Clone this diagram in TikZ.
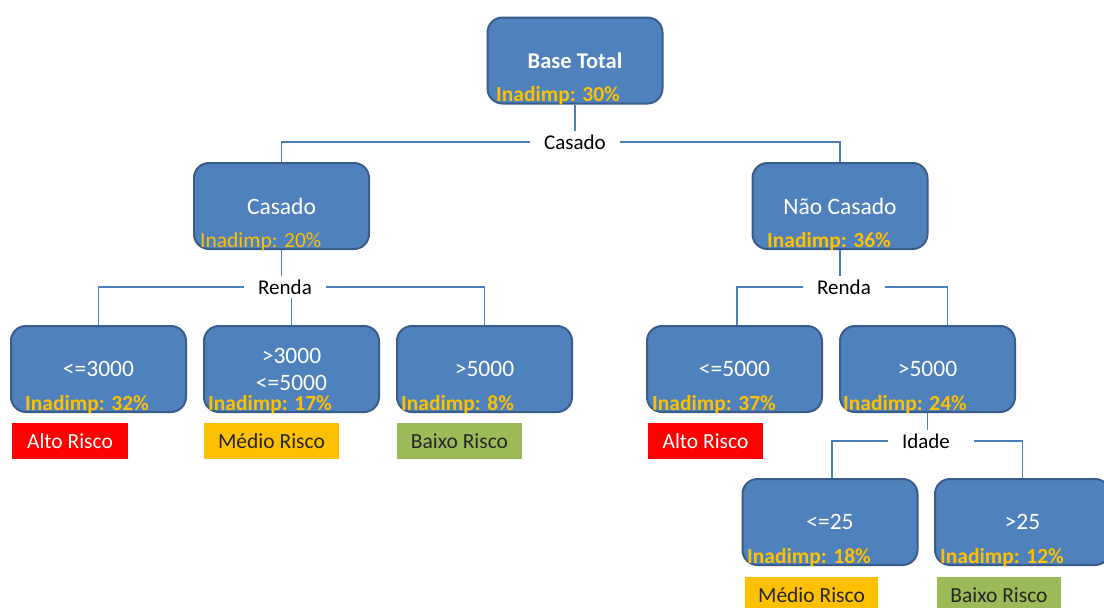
\documentclass[tikz,border=0pt]{standalone}
\usepackage{fontspec}
\setmainfont{Carlito}
\definecolor{boxfill}{HTML}{4F81BD}
\definecolor{boxedge}{HTML}{385D8A}
\definecolor{wirecol}{HTML}{4A7EBB}
\definecolor{gold}{HTML}{FFC000}
\definecolor{riskred}{HTML}{FF0000}
\definecolor{riskamber}{HTML}{FFC000}
\definecolor{riskgreen}{HTML}{9BBB59}
\definecolor{darktext}{HTML}{262626}

\tikzset{
  tbox/.style={draw=boxedge, line width=2pt, fill=boxfill, rounded corners=15pt,
    minimum width=175pt, minimum height=86pt, text=white,
    font=\fontsize{23.5}{27}\selectfont, align=center, inner sep=0pt},
  inad/.style={text=gold, font=\bfseries\fontsize{21.5}{22}\selectfont,
    anchor=base west, inner sep=0pt},
  inadlight/.style={inad, font=\fontsize{21.5}{22}\selectfont},
  split/.style={font=\fontsize{21}{22}\selectfont, text=black, inner xsep=14pt, inner ysep=3pt},
  wire/.style={draw=wirecol, line width=1.5pt},
  risk/.style={minimum height=36pt, inner sep=0pt, text=darktext,
    font=\fontsize{21.5}{22}\selectfont},
}

\begin{document}
\begin{tikzpicture}[x=1pt, y=-1pt]
  \useasboundingbox (0,0) rectangle (1104,608);
  \fill[white] (0,0) rectangle (1104,608);

  % decision nodes
  \node[tbox, font=\bfseries\fontsize{22.5}{27}\selectfont] (b0) at (575,60.5) {Base Total};
  \node[tbox] (c1) at (281.5,206) {Casado};
  \node[tbox] (c2) at (840,206) {Não Casado};
  \node[tbox] (l1) at (98.5,369) {<=3000};
  \node[tbox] (l2) at (291.5,369) {>3000\\<=5000};
  \node[tbox] (l3) at (484.5,369) {>5000};
  \node[tbox] (r1) at (734.5,369) {<=5000};
  \node[tbox] (r2) at (927.5,369) {>5000};
  \node[tbox] (g1) at (830,522) {<=25};
  \node[tbox] (g2) at (1022.5,522) {>25};

  % default rates
  \node[inad] (i0) at (496,101.5) {Inadimp: 30\%};
  \node[inadlight] (i1) at (200,247.5) {Inadimp: 20\%};
  \node[inad] (i2) at (767,247.5) {Inadimp: 36\%};
  \node[inad] (i3) at (25,410.5) {Inadimp: 32\%};
  \node[inad] (i4) at (208,410.5) {Inadimp: 17\%};
  \node[inad] (i5) at (401,410.5) {Inadimp: 8\%};
  \node[inad] (i6) at (652,410.5) {Inadimp: 37\%};
  \node[inad] (i7) at (843,410.5) {Inadimp: 24\%};
  \node[inad] (i8) at (747,563.5) {Inadimp: 18\%};
  \node[inad] (i9) at (940,563.5) {Inadimp: 12\%};

  % split variables
  \node[split] (s0) at (575,142) {Casado};
  \node[split] (s1) at (285,287) {Renda};
  \node[split] (s2) at (844,287) {Renda};
  \node[split] (s3) at (926,441) {Idade};

  % connectors
  \draw[wire] (b0.south) -- (s0.north);
  \draw[wire] (s0.west) -| (c1.north);
  \draw[wire] (s0.east) -| (c2.north);

  \draw[wire] (c1.south) -- (c1.south |- s1.north);
  \draw[wire] (s1.west) -| (l1.north);
  \draw[wire] (s1.east) -| (l3.north);
  \draw[wire] (l2.north) -- (l2.north |- s1.south);

  \draw[wire] (c2.south) -- (c2.south |- s2.north);
  \draw[wire] (s2.west) -| ([xshift=2.5pt]r1.north);
  \draw[wire] (s2.east) -| ([xshift=20pt]r2.north);

  \draw[wire] (r2.south) -- (r2.south |- s3.north);
  \draw[wire] (s3.west) -| ([xshift=2pt]g1.north);
  \draw[wire] ([xshift=10pt]s3.east) -| (g2.north);

  % risk classes
  \node[risk, fill=riskred, text=white, minimum width=116pt] (k1) at (70,441) {Alto Risco};
  \node[risk, fill=riskamber, minimum width=135pt] (k2) at (271.5,441) {Médio Risco};
  \node[risk, fill=riskgreen, minimum width=125pt] (k3) at (459.5,441) {Baixo Risco};
  \node[risk, fill=riskred, text=white, minimum width=115pt] (k4) at (705.5,441) {Alto Risco};
  \node[risk, fill=riskamber, minimum width=133pt] (k5) at (811.5,595) {Médio Risco};
  \node[risk, fill=riskgreen, minimum width=124pt] (k6) at (999,595) {Baixo Risco};
\end{tikzpicture}
\end{document}
